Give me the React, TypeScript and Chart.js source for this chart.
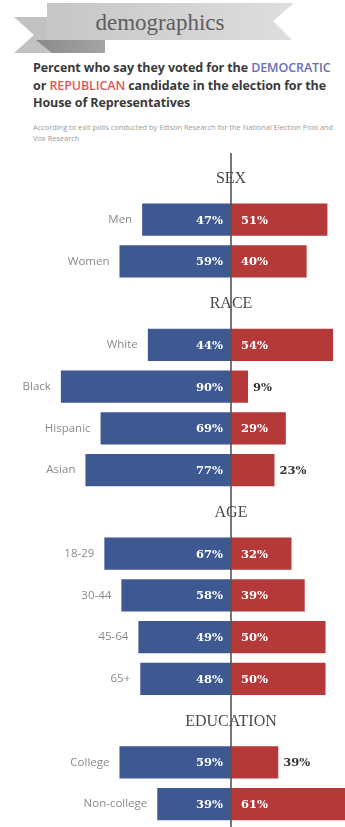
import React, { useEffect, useRef } from "react";
import { Chart, registerables } from "chart.js";

Chart.register(...registerables);

// Rows (section headers are rows without bars)
const categories = [
  "SEX", "Men", "Women",
  "RACE", "White", "Black", "Hispanic", "Asian",
  "AGE", "18-29", "30-44", "45-64", "65+",
  "EDUCATION", "College", "Non-college",
];
const sectionHeaders = ["SEX", "RACE", "AGE", "EDUCATION"];

// Bar lengths as drawn (percent)
const demValues = [null, 47, 59, null, 44, 90, 69, 77, null, 67, 58, 49, 48, null, 59, 39];
// College Republican bar is drawn shorter (~25) than its printed label (39%)
const repValues = [null, 51, 40, null, 54, 9, 29, 23, null, 32, 39, 50, 50, null, 25, 61];

// Printed labels
const demLabels = ["", "47%", "59%", "", "44%", "90%", "69%", "77%", "", "67%", "58%", "49%", "48%", "", "59%", "39%"];
const repLabels = ["", "51%", "40%", "", "54%", "9%", "29%", "23%", "", "32%", "39%", "50%", "50%", "", "39%", "61%"];

const DEM = "#3e5892";
const REP = "#b6393a";

const labelPlugin = {
  id: "demoLabels",
  afterDatasetsDraw(chart: any) {
    const ctx = chart.ctx;
    const xs = chart.scales.x;
    const ys = chart.scales.y;
    const x0 = xs.getPixelForValue(0);
    ctx.save();
    // center axis line
    ctx.strokeStyle = "#555";
    ctx.lineWidth = 1.6;
    ctx.beginPath();
    ctx.moveTo(x0, 153);
    ctx.lineTo(x0, chart.height);
    ctx.stroke();

    categories.forEach((cat, i) => {
      const y = ys.getPixelForValue(i);
      if (sectionHeaders.includes(cat)) {
        ctx.font = "16px 'Liberation Serif', serif";
        ctx.fillStyle = "#4a4a4a";
        ctx.textAlign = "center";
        ctx.textBaseline = "middle";
        ctx.fillText(cat, x0, y + 1);
        return;
      }
      const d = demValues[i];
      const r = repValues[i];
      const dx = xs.getPixelForValue(-(d as number));
      const rx = xs.getPixelForValue(r as number);
      // category label
      ctx.font = "11.5px 'Open Sans', sans-serif";
      ctx.fillStyle = "#8a8a8a";
      ctx.textBaseline = "middle";
      const tw = ctx.measureText(cat).width;
      if (dx - 10 - tw < 4) {
        ctx.textAlign = "left";
        ctx.fillText(cat, 21, y - 21);
      } else {
        ctx.textAlign = "right";
        ctx.fillText(cat, dx - 10, y);
      }
      // values
      ctx.font = "bold 11.5px 'DejaVu Serif', serif";
      ctx.fillStyle = "#ffffff";
      ctx.textAlign = "right";
      ctx.fillText(demLabels[i], x0 - 8, y + 1);
      ctx.textAlign = "left";
      if (rx - x0 > 50) {
        ctx.fillStyle = "#ffffff";
        ctx.fillText(repLabels[i], x0 + 10, y + 1);
      } else {
        ctx.fillStyle = "#333333";
        ctx.fillText(repLabels[i], rx + 5, y + 1);
      }
    });
    ctx.restore();
  },
};

export default function App() {
  const ref = useRef<HTMLCanvasElement | null>(null);

  useEffect(() => {
    if (!ref.current) return;
    const chart = new Chart(ref.current, {
      type: "bar",
      data: {
        labels: categories,
        datasets: [
          {
            label: "Democratic",
            data: demValues.map((v) => (v == null ? null : -v)),
            backgroundColor: DEM,
            borderWidth: 0,
            barPercentage: 0.77,
            categoryPercentage: 1,
          },
          {
            label: "Republican",
            data: repValues,
            backgroundColor: REP,
            borderWidth: 0,
            barPercentage: 0.77,
            categoryPercentage: 1,
          },
        ],
      },
      options: {
        indexAxis: "y",
        animation: false,
        responsive: false,
        layout: { padding: { top: 157, bottom: 2, left: 0, right: 0 } },
        plugins: { legend: { display: false }, tooltip: { enabled: false } },
        scales: {
          x: { type: "linear", min: -122.2, max: 60.3, stacked: true, display: false },
          y: { type: "category", stacked: true, display: false },
        },
      },
      plugins: [labelPlugin],
    });
    return () => chart.destroy();
  }, []);

  return (
    <div style={{ position: "absolute", left: 0, top: 0, width: 345, height: 827, background: "#fff", overflow: "hidden" }}>
      <svg width={345} height={60} style={{ position: "absolute", left: 0, top: 0 }}>
        <defs>
          <linearGradient id="mainG" x1="0" x2="1" y1="0" y2="0">
            <stop offset="0" stopColor="#c6c6c6" />
            <stop offset="1" stopColor="#dedede" />
          </linearGradient>
          <linearGradient id="foldG" x1="0" x2="1" y1="0" y2="0">
            <stop offset="0" stopColor="#8a8a8a" />
            <stop offset="1" stopColor="#a4a4a4" />
          </linearGradient>
        </defs>
        <polygon points="14,17 52,17 52,53 14,53 34,35" fill="#c2c2c2" />
        <polygon points="36,40 105,40 105,53 52,53" fill="url(#foldG)" />
        <polygon points="47,3 294,3 273,21 292,40 47,40" fill="url(#mainG)" />
        <text x={160} y={30} textAnchor="middle" fontFamily="'Liberation Serif', serif" fontSize={23} fill="#5e5e5e">
          demographics
        </text>
      </svg>
      <div
        style={{
          position: "absolute",
          left: 33,
          top: 59,
          width: 312,
          whiteSpace: "nowrap",
          fontFamily: "'Open Sans', sans-serif",
          fontWeight: 700,
          fontSize: 12.5,
          lineHeight: "17.5px",
          color: "#3a3a3a",
          letterSpacing: "-0.1px",
        }}
      >
        Percent who say they voted for the <span style={{ color: "#6a6fb4", fontWeight: 600 }}>DEMOCRATIC</span>
        <br />
        or <span style={{ color: "#e0575a", fontWeight: 600 }}>REPUBLICAN</span> candidate in the election for the
        <br />
        House of Representatives
      </div>
      <div
        style={{
          position: "absolute",
          left: 33,
          top: 122,
          width: 312,
          whiteSpace: "nowrap",
          fontFamily: "'Open Sans', sans-serif",
          fontSize: 7.4,
          lineHeight: "11px",
          color: "#9a9a9a",
        }}
      >
        According to exit polls conducted by Edison Research for the National Election Pool and
        <br />
        Vox Research
      </div>
      <canvas ref={ref} width={345} height={827} style={{ position: "absolute", left: 0, top: 0 }} />
    </div>
  );
}
